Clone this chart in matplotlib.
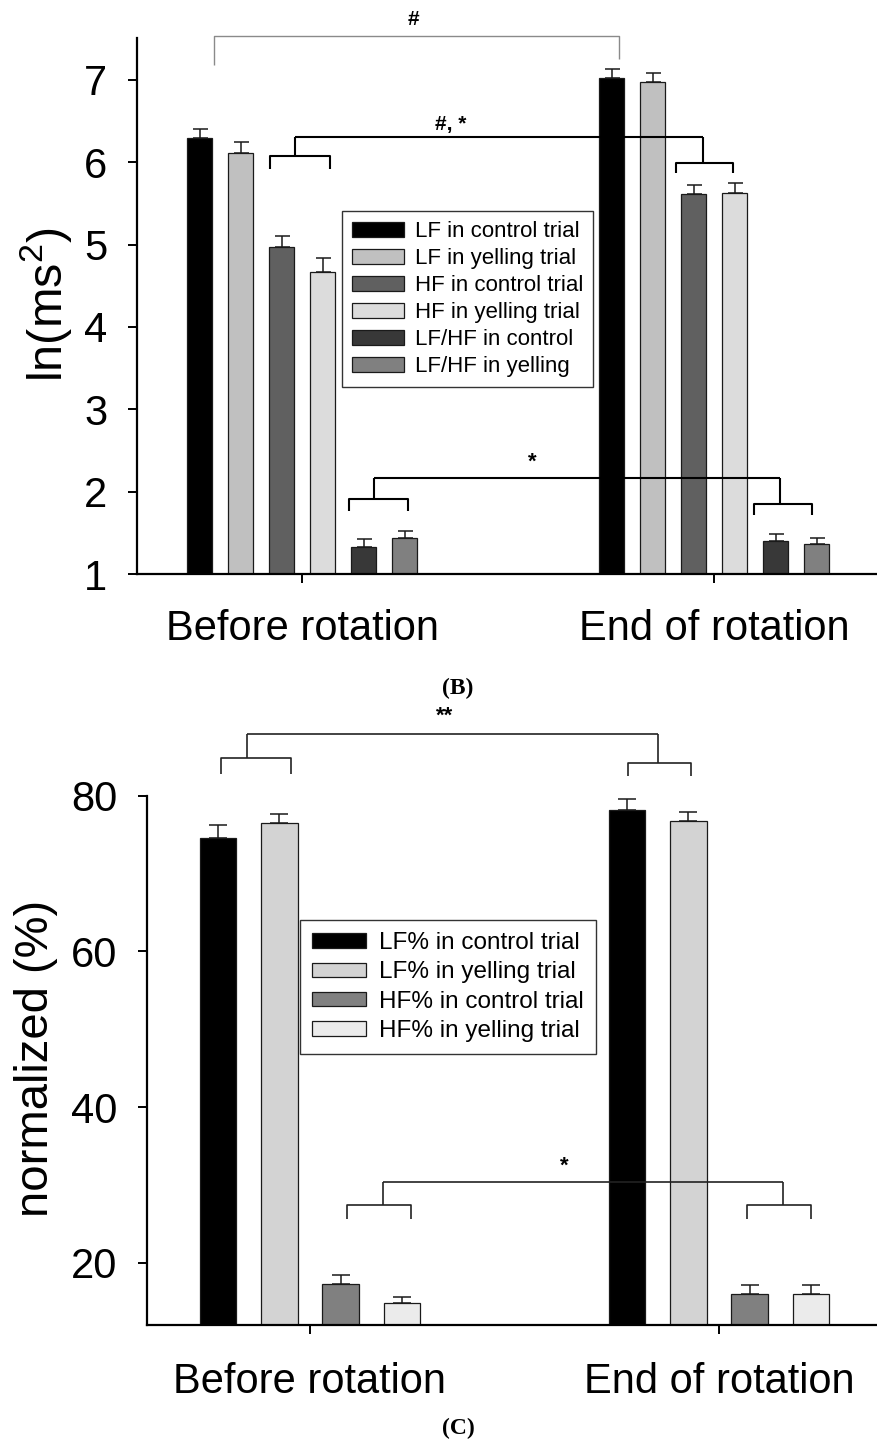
import numpy as np
import matplotlib
matplotlib.use('Agg')
import matplotlib.pyplot as plt

plt.rcParams['font.family'] = ['Liberation Sans', 'DejaVu Sans']
plt.rcParams['mathtext.fontset'] = 'custom'
plt.rcParams['mathtext.rm'] = 'Liberation Sans'

groups = ['Before rotation', 'End of rotation']

# panel B, ln(ms^2)
b_labels = ['LF in control trial', 'LF in yelling trial', 'HF in control trial',
            'HF in yelling trial', 'LF/HF in control', 'LF/HF in yelling']
b_means = [[6.29, 7.03], [6.11, 6.98], [4.97, 5.61], [4.67, 5.63], [1.33, 1.40], [1.44, 1.36]]
b_errs = [[0.11, 0.10], [0.14, 0.10], [0.14, 0.12], [0.17, 0.12], [0.09, 0.09], [0.08, 0.08]]
b_colors = ['#000000', '#c0c0c0', '#606060', '#dcdcdc', '#383838', '#808080']

# panel C, normalized %
c_labels = ['LF% in control trial', 'LF% in yelling trial',
            'HF% in control trial', 'HF% in yelling trial']
c_means = [[74.6, 78.2], [76.5, 76.7], [17.3, 16.0], [14.8, 16.0]]
c_errs = [[1.6, 1.4], [1.2, 1.2], [1.1, 1.1], [0.8, 1.1]]
c_colors = ['#000000', '#d3d3d3', '#808080', '#ebebeb']


def draw_bars(ax, means, errs, colors, labels, step, width, capsize):
    n = len(means)
    xs = np.arange(len(groups))
    for i in range(n):
        x = xs + (i - (n - 1) / 2.0) * step
        ax.bar(x, means[i], width, yerr=[np.zeros(len(groups)), errs[i]],
               color=colors[i], edgecolor='#1a1a1a', linewidth=0.9, label=labels[i],
               error_kw=dict(ecolor='#1a1a1a', elinewidth=1.1, capsize=capsize, capthick=1.1),
               zorder=2)


def line(ax, xs, ys, color, lw):
    ax.plot(xs, ys, color=color, lw=lw, clip_on=False, zorder=6, solid_capstyle='butt')


def bracket(ax, y, left, right, color='black', lw=1.5):
    # left/right: (stem x, sub y, sub x0, sub x1, sub tick y)
    line(ax, [left[0], right[0]], [y, y], color, lw)
    for sx, sy, a, b, ty in (left, right):
        line(ax, [sx, sx], [y, sy], color, lw)
        line(ax, [a, a, b, b], [ty, sy, sy, ty], color, lw)


def style_axis(ax, xpad):
    for s in ['top', 'right']:
        ax.spines[s].set_visible(False)
    for s in ['left', 'bottom']:
        ax.spines[s].set_linewidth(1.6)
    ax.tick_params(direction='out', length=6.5, width=1.4, labelsize=30)
    ax.tick_params(axis='y', pad=15)
    ax.tick_params(axis='x', pad=xpad)
    ax.set_xticks(np.arange(len(groups)))
    ax.set_xticklabels(groups)


fig = plt.figure(figsize=(8.77, 14.47), dpi=100)

# ---------- (B) ----------
ax1 = fig.add_axes([137 / 877, 1 - 574 / 1447, 739 / 877, 536 / 1447])
draw_bars(ax1, b_means, b_errs, b_colors, b_labels, 0.0995, 0.0595, 5.4)
ax1.set_xlim(-0.4005, 1.393)
ax1.set_ylim(1, 7.51)
ax1.set_yticks([1, 2, 3, 4, 5, 6, 7])
style_axis(ax1, 19)
ax1.set_ylabel(r'ln(ms$^\mathregular{2}$)', fontsize=35)
ax1.yaxis.set_label_coords(-0.084, 0.502)

leg = ax1.legend(loc='upper left', bbox_to_anchor=(0.2774, 0.6772), fontsize=16,
                 handlelength=2.33, handleheight=0.67, handletextpad=0.5,
                 labelspacing=0.27, borderpad=0.45, borderaxespad=0,
                 fancybox=False, edgecolor='#333333', framealpha=1)
leg.get_frame().set_linewidth(1.0)

# "#" bracket (thin, grey)
line(ax1, [-0.214, -0.214, 0.769, 0.769], [7.18, 7.54, 7.54, 7.25], '#8a8a8a', 1.0)
ax1.text(0.27, 7.73, '#', fontsize=15, fontweight='bold', ha='center', va='center')
bracket(ax1, 6.31, (-0.017, 6.08, -0.078, 0.068, 5.92), (0.973, 5.99, 0.908, 1.046, 5.87))
ax1.text(0.362, 6.46, '#, *', fontsize=15, fontweight='bold', ha='center', va='center')
bracket(ax1, 2.17, (0.175, 1.91, 0.114, 0.257, 1.77), (1.16, 1.85, 1.097, 1.238, 1.72))
ax1.text(0.558, 2.36, '*', fontsize=16, fontweight='bold', ha='center', va='center')

fig.text(458 / 877, 1 - 688 / 1447, '(B)', fontsize=17, fontweight='bold',
         family='Liberation Serif', ha='center', va='center')

# ---------- (C) ----------
ax2 = fig.add_axes([147 / 877, 1 - 1325 / 1447, 729 / 877, 529.3 / 1447])
draw_bars(ax2, c_means, c_errs, c_colors, c_labels, 0.150, 0.09, 6.5)
ax2.set_xlim(-0.3985, 1.384)
ax2.set_ylim(12, 80)
ax2.set_yticks([20, 40, 60, 80])
style_axis(ax2, 20)
ax2.set_ylabel('normalized (%)', fontsize=34)
ax2.yaxis.set_label_coords(-0.122, 0.504)

leg2 = ax2.legend(loc='upper left', bbox_to_anchor=(0.2099, 0.7652), fontsize=17.5,
                  handlelength=2.2, handleheight=0.55, handletextpad=0.55,
                  labelspacing=0.3, borderpad=0.5, borderaxespad=0,
                  fancybox=False, edgecolor='#333333', framealpha=1)
leg2.get_frame().set_linewidth(1.0)

bracket(ax2, 87.93, (-0.154, 84.85, -0.218, -0.046, 82.8), (0.851, 84.2, 0.778, 0.932, 82.5),
        color='#222222', lw=1.2)
ax2.text(0.33, 90.2, '**', fontsize=16, fontweight='bold', ha='center', va='center')
bracket(ax2, 30.35, (0.178, 27.4, 0.09, 0.247, 25.6), (1.156, 27.4, 1.068, 1.225, 25.6),
        color='#222222', lw=1.2)
ax2.text(0.621, 32.4, '*', fontsize=16, fontweight='bold', ha='center', va='center')

fig.text(458 / 877, 1 - 1428 / 1447, '(C)', fontsize=17, fontweight='bold',
         family='Liberation Serif', ha='center', va='center')

fig.savefig('out.png', dpi=100)
